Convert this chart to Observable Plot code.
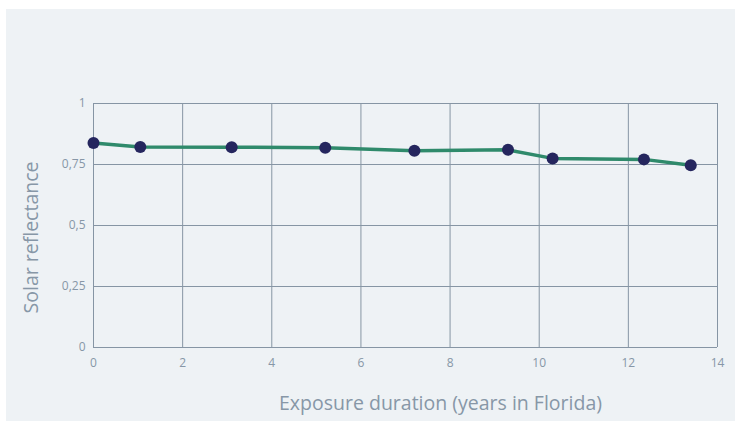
<!DOCTYPE html>
<html>
<head>
<meta charset="utf-8">
<script src="https://cdn.jsdelivr.net/npm/d3@7"></script>
<script src="https://cdn.jsdelivr.net/npm/@observablehq/plot@0.6"></script>
<style>
  html, body { margin: 0; padding: 0; background: #ffffff; }
  #panel { position: absolute; left: 6px; top: 9px; width: 729px; height: 412px; background: #eef2f5; }
  svg { display: block; }
</style>
</head>
<body>
<div id="panel"></div>
<script>
const years = [0, 1.05, 3.1, 5.2, 7.2, 9.3, 10.3, 12.35, 13.4];
const reflectance = [0.838, 0.822, 0.821, 0.819, 0.806, 0.81, 0.775, 0.771, 0.747];
const xTicks = [0, 2, 4, 6, 8, 10, 12, 14];
const yTicks = [0, 0.25, 0.5, 0.75, 1];
const xLabel = "Exposure duration (years in Florida)";
const yLabel = "Solar reflectance";

const data = years.map((x, i) => ({x, y: reflectance[i]}));
const gridColor = "#8695a4";
const textColor = "#8797a7";
const fmt = d => String(d).replace(".", ",");

const chart = Plot.plot({
  width: 729,
  height: 412,
  marginLeft: 87,
  marginRight: 18,
  marginTop: 94,
  marginBottom: 74,
  style: { background: "transparent", fontFamily: "Open Sans, sans-serif", color: textColor },
  x: { domain: [0, 14] },
  y: { domain: [0, 1] },
  marks: [
    Plot.ruleX(xTicks, { stroke: gridColor, strokeWidth: 1 }),
    Plot.ruleY(yTicks, { stroke: gridColor, strokeWidth: 1 }),
    Plot.axisX(xTicks, { tickSize: 0, tickPadding: 11, tickFormat: fmt, fontSize: 12, fill: textColor, label: null }),
    Plot.axisY(yTicks, { tickSize: 0, tickPadding: 8, tickFormat: fmt, fontSize: 12, fill: textColor, label: null }),
    Plot.line(data, { x: "x", y: "y", stroke: "#2f8a6b", strokeWidth: 3.5 }),
    Plot.dot(data, { x: "x", y: "y", r: 6, fill: "#25265e", stroke: "none" }),
    Plot.text([xLabel], { frameAnchor: "bottom", textAnchor: "middle", lineAnchor: "middle", dx: 35, dy: 56, fontSize: 19.5, fill: textColor }),
    Plot.text([yLabel], { frameAnchor: "left", textAnchor: "middle", lineAnchor: "middle", rotate: -90, dx: -62, dy: 12, fontSize: 19.5, fill: textColor })
  ]
});
document.getElementById("panel").appendChild(chart);
</script>
</body>
</html>
